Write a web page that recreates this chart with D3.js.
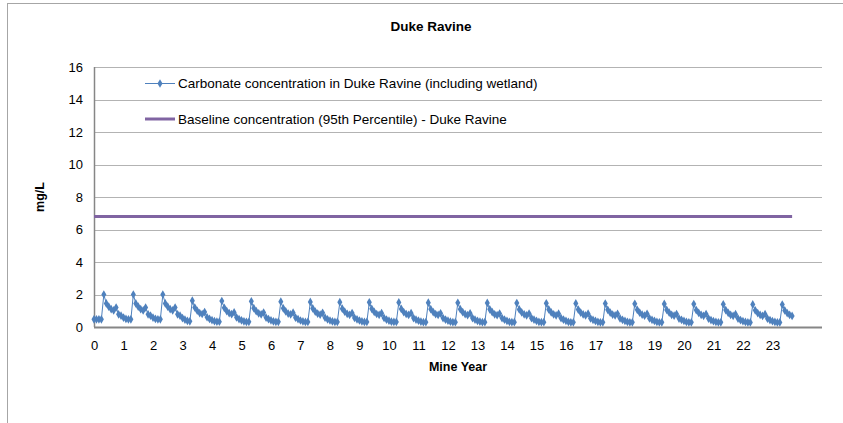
<!DOCTYPE html>
<html>
<head>
<meta charset="utf-8">
<script src="https://cdn.jsdelivr.net/npm/d3@7"></script>
<style>
  html, body { margin: 0; padding: 0; background: #fff; }
  svg { display: block; font-family: "Liberation Sans", Arial, sans-serif; }
</style>
</head>
<body>
<div id="chart"></div>
<script>
// ── Data ─────────────────────────────────────────────────────────────────────

const chartTitle = "Duke Ravine";
const xTitle = "Mine Year";
const yTitle = "mg/L";

const seriesName = "Carbonate concentration in Duke Ravine (including wetland)";
const baselineName = "Baseline concentration (95th Percentile) - Duke Ravine";

// monthly carbonate concentration (mg/L), one row per mine year (12 months each)
const carbonateByYear = [
  [0.47, 0.47, 0.47, 0.47, 2.0, 1.45, 1.25, 1.1, 1.02, 1.2, 0.78, 0.7],
  [0.58, 0.5, 0.47, 0.47, 2.0, 1.45, 1.25, 1.1, 1.02, 1.2, 0.78, 0.7],
  [0.58, 0.5, 0.47, 0.47, 2.0, 1.45, 1.25, 1.1, 1.02, 1.2, 0.78, 0.7],
  [0.55, 0.45, 0.38, 0.35, 1.62, 1.2, 1.0, 0.86, 0.8, 0.92, 0.6, 0.5],
  [0.42, 0.36, 0.33, 0.33, 1.6, 1.18, 0.98, 0.85, 0.79, 0.9, 0.59, 0.49],
  [0.41, 0.35, 0.32, 0.32, 1.58, 1.16, 0.97, 0.84, 0.78, 0.89, 0.58, 0.48],
  [0.41, 0.35, 0.32, 0.32, 1.56, 1.15, 0.96, 0.83, 0.77, 0.88, 0.57, 0.48],
  [0.4, 0.34, 0.31, 0.31, 1.54, 1.14, 0.95, 0.82, 0.76, 0.87, 0.57, 0.47],
  [0.4, 0.34, 0.31, 0.31, 1.53, 1.13, 0.94, 0.81, 0.75, 0.86, 0.56, 0.47],
  [0.4, 0.34, 0.31, 0.31, 1.52, 1.12, 0.93, 0.8, 0.75, 0.85, 0.56, 0.46],
  [0.39, 0.33, 0.31, 0.31, 1.51, 1.11, 0.92, 0.8, 0.74, 0.85, 0.55, 0.46],
  [0.39, 0.33, 0.3, 0.3, 1.5, 1.1, 0.92, 0.79, 0.74, 0.84, 0.55, 0.46],
  [0.39, 0.33, 0.3, 0.3, 1.49, 1.1, 0.91, 0.79, 0.73, 0.84, 0.55, 0.45],
  [0.38, 0.33, 0.3, 0.3, 1.48, 1.09, 0.91, 0.78, 0.73, 0.83, 0.54, 0.45],
  [0.38, 0.32, 0.3, 0.3, 1.47, 1.08, 0.9, 0.78, 0.72, 0.83, 0.54, 0.45],
  [0.38, 0.32, 0.3, 0.3, 1.46, 1.08, 0.9, 0.77, 0.72, 0.82, 0.54, 0.45],
  [0.38, 0.32, 0.29, 0.29, 1.45, 1.07, 0.89, 0.77, 0.71, 0.82, 0.53, 0.44],
  [0.37, 0.32, 0.29, 0.29, 1.44, 1.06, 0.89, 0.76, 0.71, 0.81, 0.53, 0.44],
  [0.37, 0.32, 0.29, 0.29, 1.43, 1.06, 0.88, 0.76, 0.7, 0.81, 0.53, 0.44],
  [0.37, 0.31, 0.29, 0.29, 1.42, 1.05, 0.88, 0.75, 0.7, 0.8, 0.52, 0.44],
  [0.37, 0.31, 0.29, 0.29, 1.41, 1.04, 0.87, 0.75, 0.69, 0.8, 0.52, 0.43],
  [0.36, 0.31, 0.29, 0.29, 1.4, 1.04, 0.87, 0.74, 0.69, 0.79, 0.52, 0.43],
  [0.36, 0.31, 0.28, 0.28, 1.39, 1.03, 0.86, 0.74, 0.68, 0.79, 0.51, 0.43],
  [0.36, 0.31, 0.28, 0.28, 1.38, 1.02, 0.86, 0.74, 0.68]
];

const baselineValue = 6.8;

const xTicks = [0, 1, 2, 3, 4, 5, 6, 7, 8, 9, 10, 11, 12, 13, 14, 15, 16, 17, 18, 19, 20, 21, 22, 23];
const yTicks = [0, 2, 4, 6, 8, 10, 12, 14, 16];
const xMax = 24.68;

// ── Chart ────────────────────────────────────────────────────────────────────

const width = 843;
const height = 423;
const margin = { top: 67, right: 21, bottom: 96, left: 94 };

const points = [];
carbonateByYear.forEach((row, yr) => {
  row.forEach((v, m) => points.push({ x: yr + m / 12, y: v }));
});
const lastX = points[points.length - 1].x;

const svg = d3.select("#chart").append("svg")
  .attr("width", width).attr("height", height);

// outer chart frame (runs past the right/bottom edges)
svg.append("rect")
  .attr("x", 7.5).attr("y", 3.5)
  .attr("width", 860).attr("height", 460)
  .attr("fill", "#fff").attr("stroke", "#a6a6a6").attr("stroke-width", 1);

const x = d3.scaleLinear().domain([0, xMax]).range([margin.left, width - margin.right]);
const y = d3.scaleLinear().domain([0, 16]).range([height - margin.bottom, margin.top]);

// gridlines
svg.append("g")
  .selectAll("line")
  .data(yTicks.filter((d) => d > 0))
  .join("line")
  .attr("x1", x(0)).attr("x2", x(xMax))
  .attr("y1", (d) => Math.round(y(d)) + 0.5).attr("y2", (d) => Math.round(y(d)) + 0.5)
  .attr("stroke", "#b3b3b3").attr("stroke-width", 1);

// y axis labels
const yAxis = svg.append("g")
  .attr("transform", `translate(${margin.left - 11},0)`)
  .call(d3.axisLeft(y).tickValues(yTicks).tickSize(0).tickPadding(0));
yAxis.select(".domain").remove();
yAxis.selectAll("text").attr("font-size", "13px").attr("fill", "#000")
  .attr("font-family", "Liberation Sans, Arial, sans-serif");

// x axis labels
const xAxis = svg.append("g")
  .attr("transform", `translate(0,${height - margin.bottom + 14})`)
  .call(d3.axisBottom(x).tickValues(xTicks).tickSize(0).tickPadding(0).tickFormat(d3.format("d")));
xAxis.select(".domain").remove();
xAxis.selectAll("text").attr("font-size", "13px").attr("fill", "#000")
  .attr("font-family", "Liberation Sans, Arial, sans-serif");

// axis lines
svg.append("line")
  .attr("x1", x(0) + 0.5).attr("x2", x(0) + 0.5)
  .attr("y1", y(16)).attr("y2", y(0))
  .attr("stroke", "#868686").attr("stroke-width", 1.5);
svg.append("line")
  .attr("x1", x(0)).attr("x2", x(xMax))
  .attr("y1", y(0) + 0.5).attr("y2", y(0) + 0.5)
  .attr("stroke", "#868686").attr("stroke-width", 2);

// baseline
svg.append("line")
  .attr("x1", x(0)).attr("x2", x(lastX))
  .attr("y1", y(baselineValue)).attr("y2", y(baselineValue))
  .attr("stroke", "#8064a2").attr("stroke-width", 3);

// carbonate series
const line = d3.line().x((d) => x(d.x)).y((d) => y(d.y));
svg.append("path")
  .datum(points)
  .attr("d", line)
  .attr("fill", "none").attr("stroke", "#4f81bd").attr("stroke-width", 1);

const diamond = d3.symbol().type(d3.symbolDiamond).size(22);
svg.append("g")
  .selectAll("path")
  .data(points)
  .join("path")
  .attr("transform", (d) => `translate(${x(d.x)},${y(d.y)})`)
  .attr("d", diamond)
  .attr("fill", "#4f81bd");

// legend
const legend = svg.append("g").attr("transform", "translate(145,0)");
legend.append("line")
  .attr("x1", 0).attr("x2", 30).attr("y1", 83.5).attr("y2", 83.5)
  .attr("stroke", "#4f81bd").attr("stroke-width", 1);
legend.append("path")
  .attr("transform", "translate(15,83.5)").attr("d", diamond).attr("fill", "#4f81bd");
legend.append("text")
  .attr("x", 33).attr("y", 83).attr("dy", "0.35em")
  .attr("font-size", "13.5px").attr("fill", "#000")
  .text(seriesName);

legend.append("line")
  .attr("x1", 0).attr("x2", 30).attr("y1", 119).attr("y2", 119)
  .attr("stroke", "#8064a2").attr("stroke-width", 3);
legend.append("text")
  .attr("x", 33).attr("y", 119).attr("dy", "0.35em")
  .attr("font-size", "13.5px").attr("fill", "#000")
  .text(baselineName);

// titles
svg.append("text")
  .attr("x", 431).attr("y", 31)
  .attr("text-anchor", "middle")
  .attr("font-size", "13.5px").attr("font-weight", "bold").attr("fill", "#000")
  .text(chartTitle);

svg.append("text")
  .attr("x", (x(0) + x(xMax)) / 2).attr("y", 371)
  .attr("text-anchor", "middle")
  .attr("font-size", "12.5px").attr("font-weight", "bold").attr("fill", "#000")
  .text(xTitle);

svg.append("text")
  .attr("transform", `translate(44,${(y(0) + y(16)) / 2}) rotate(-90)`)
  .attr("text-anchor", "middle")
  .attr("font-size", "12.5px").attr("font-weight", "bold").attr("fill", "#000")
  .text(yTitle);
</script>
</body>
</html>
